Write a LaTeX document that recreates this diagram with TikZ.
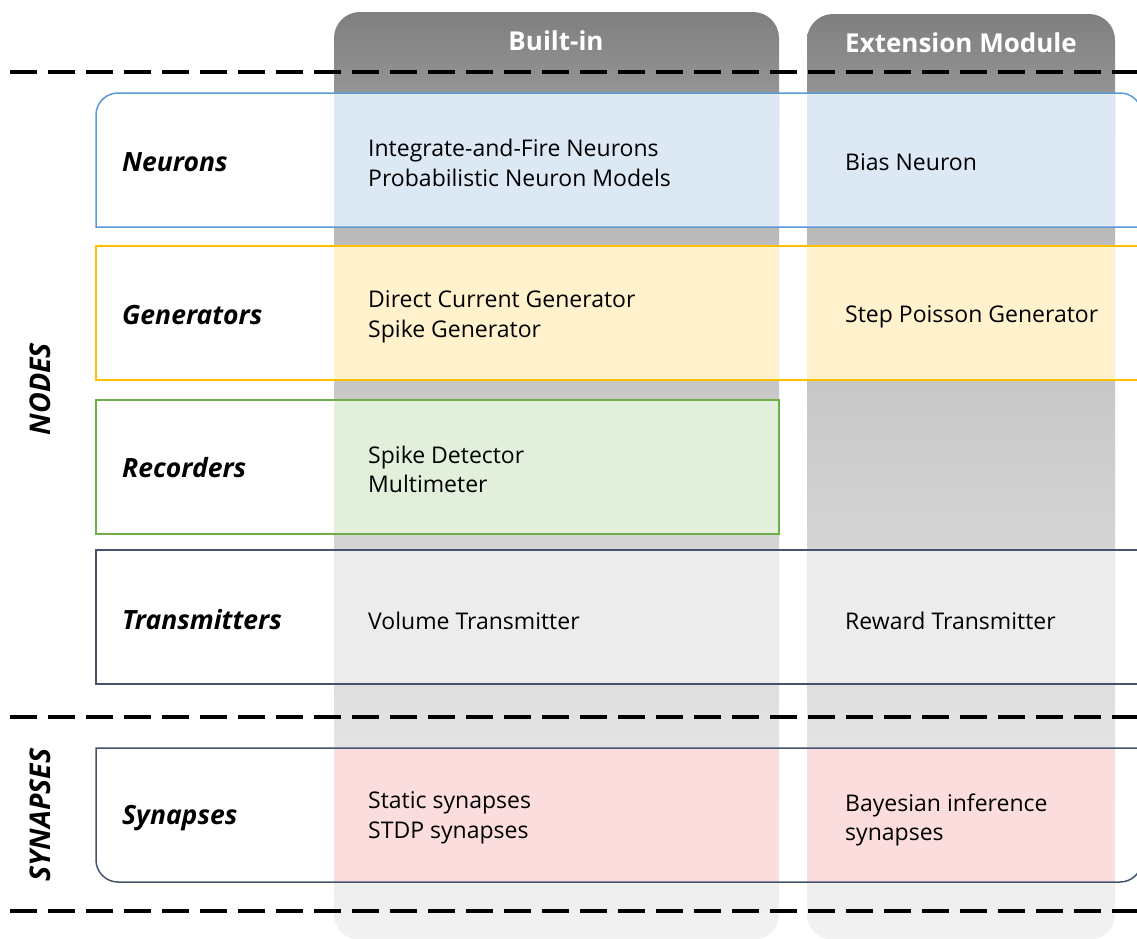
\documentclass[tikz,border=0pt]{standalone}
\usepackage{fontspec}
\setmainfont{Open Sans}
\definecolor{colT}{HTML}{7F7F7F}
\definecolor{colM}{HTML}{BDBDBD}
\definecolor{colB}{HTML}{F2F2F2}
\definecolor{neuF}{HTML}{DDE8F5}
\definecolor{neuD}{HTML}{5B9BD5}
\definecolor{genF}{HTML}{FFF2CC}
\definecolor{genD}{HTML}{FFC000}
\definecolor{recF}{HTML}{E2EFDA}
\definecolor{recD}{HTML}{70AD47}
\definecolor{traF}{HTML}{ECECEC}
\definecolor{slate}{HTML}{44546A}
\definecolor{synF}{HTML}{FCDDDD}
\pgfdeclareverticalshading{colshade}{100bp}{color(0bp)=(colB); color(25bp)=(colB); color(62.5bp)=(colM); color(75bp)=(colT); color(100bp)=(colT)}
\begin{document}
\begin{tikzpicture}[x=1pt,y=-1pt,
  column/.style={shading=colshade, rounded corners=26pt},
  rowline/.style={line width=1.5pt},
  divider/.style={line width=4pt, dash pattern=on 27pt off 11pt, black},
  body/.style={anchor=west, align=left, inner sep=0pt, font=\fontsize{23}{29.5}\selectfont, text=black},
  rowtitle/.style={anchor=west, inner sep=0pt, font=\fontsize{26.5}{30}\selectfont\bfseries\itshape},
  grouptitle/.style={rotate=90, inner sep=0pt, font=\fontsize{28.5}{32}\selectfont\bfseries\itshape},
  header/.style={inner sep=0pt, text=white, font=\fontsize{26}{30}\selectfont\bfseries}]
\useasboundingbox (0,0) rectangle (1137,938);
\fill[white] (0,0) rectangle (1137,938);
% columns
\path[column] (334,12) rectangle (779,940);
\path[column] (807,14) rectangle (1115,940);
% cells
\fill[neuF] (334,93) rectangle (779,227);
\fill[neuF] (807,93) rectangle (1115,227);
\fill[genF] (334,246) rectangle (779,380);
\fill[genF] (807,246) rectangle (1115,380);
\fill[recF] (334,400) rectangle (779,534);
\fill[traF] (334,550) rectangle (779,684);
\fill[traF] (807,550) rectangle (1115,684);
\fill[synF] (334,748) rectangle (779,882);
\fill[synF] (807,748) rectangle (1115,882);
% row borders
\draw[rowline, draw=neuD] (1142,227) -- (96,227) -- (96,115) arc[start angle=180, end angle=270, radius=22] -- (1120,93) arc[start angle=270, end angle=360, radius=22] -- cycle;
\draw[rowline, draw=genD] (96,246) rectangle (1142,380);
\draw[rowline, draw=recD] (96,400) rectangle (779,534);
\draw[rowline, draw=slate] (96,550) rectangle (1142,684);
\draw[rowline, draw=slate] (96,748) -- (96,860) arc[start angle=180, end angle=90, radius=22] -- (1120,882) arc[start angle=90, end angle=0, radius=22] -- (1142,748) -- cycle;
% dividers
\draw[divider] (10,72) -- (1160,72);
\draw[divider] (10,717) -- (1160,717);
\draw[divider] (10,911) -- (1160,911);
% headers
\node[header] (hb) at (556,41) {Built-in};
\node[header] (he) at (961,43) {Extension Module};
% group titles
\node[grouptitle] (gn) at (40,389) {NODES};
\node[grouptitle] (gs) at (40,815) {SYNAPSES};
% row titles
\node[rowtitle] (tn) at (122,162) {Neurons};
\node[rowtitle] (tg) at (122,315) {Generators};
\node[rowtitle] (tr) at (122,468) {Recorders};
\node[rowtitle] (tt) at (122,620) {Transmitters};
\node[rowtitle] (ts) at (122,818) {Synapses};
% cell texts
\node[body] (bn) at (368,163) {Integrate-and-Fire Neurons\\Probabilistic Neuron Models};
\node[body] (en) at (845,162) {Bias Neuron};
\node[body] (bg) at (368,317) {Direct Current Generator\\Spike Generator};
\node[body] (eg) at (845,317) {Step Poisson Generator};
\node[body] (br) at (368,469.5) {Spike Detector\\Multimeter};
\node[body] (bt) at (368,621) {Volume Transmitter};
\node[body] (et) at (845,621) {Reward Transmitter};
\node[body] (bs) at (368,818) {Static synapses\\STDP synapses};
\node[body] (es) at (845,820) {Bayesian inference\\synapses};
\end{tikzpicture}
\end{document}
